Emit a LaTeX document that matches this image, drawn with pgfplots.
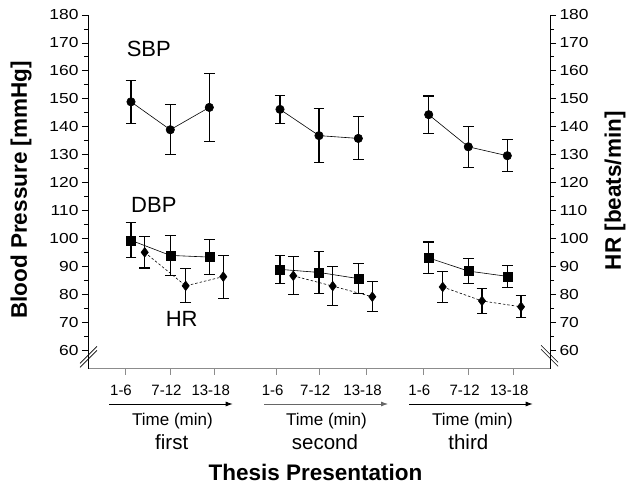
\documentclass[border=0pt]{standalone}
\usepackage{fontspec}
\setmainfont{Liberation Sans}
\newfontfamily\wide[FakeStretch=1.2]{Liberation Sans}
\usepackage{pgfplots}
\pgfplotsset{compat=1.18}
\usepackage{pgfplotstable}
\usetikzlibrary{arrows.meta}

% x = horizontal position of the marker, y = mean, e = error (SD)
\pgfplotstableread{
x y e
131 148.9 7.7
170.3 138.9 9.0
209.3 146.9 12.2
250 nan 0
280 146.2 5.1
319 136.8 9.7
358.3 135.8 7.7
400 nan 0
428.7 144.3 6.7
468.3 132.8 7.3
507.3 129.6 5.7
}\sbp
\pgfplotstableread{
x y e
131 99.3 6.3
170.3 93.9 7.1
209.3 93.3 6.3
250 nan 0
280 88.9 5.0
319 87.8 7.5
358.3 85.6 5.3
400 nan 0
428.7 93.0 5.7
468.3 88.3 4.4
507.3 86.4 3.9
}\dbp
\pgfplotstableread{
x y e
144.7 95.0 5.6
185.7 83.0 6.1
223.3 86.3 7.7
250 nan 0
293.3 86.6 6.75
332.7 82.9 7.0
372.3 79.1 5.3
400 nan 0
442.7 82.6 5.7
482 77.6 4.6
521 75.5 3.9
}\hr

\newcommand{\tfont}{\fontsize{15bp}{18bp}\selectfont}
\newcommand{\yfont}{\wide\fontsize{14.5bp}{18bp}\selectfont}
\newcommand{\bfnt}{\fontsize{22.5bp}{26bp}\selectfont\bfseries}

\pgfplotsset{
  base/.style={
    width=462bp, height=353.5bp, scale only axis,
    xmin=88, xmax=550, ymin=53.4, ymax=180,
    clip=false,
    /pgf/number format/assume math mode=true,
    ytick={60,70,...,180},
    minor ytick={65,75,...,175},
    tick align=outside,
    major tick length=6bp,
    minor tick length=4bp,
    every tick/.style={black, line width=0.8pt},
    yticklabel style={font=\yfont},
    y axis line style={black, line width=0.9pt},
  },
  ebar/.style={
    error bars/.cd, y dir=both, y explicit,
    error bar style={line width=1.1pt, solid},
    error mark options={rotate=90, mark size=5.3bp, line width=1.1pt, solid},
  },
}

\begin{document}
\begin{tikzpicture}
\begin{axis}[base,
  axis x line*=bottom, axis y line*=left,
  x axis line style={draw=black!45, line width=1.3pt},
  xtick={125,170.5,214.7,276.7,319.2,366.6,423.3,468.6,513.3},
  xticklabels={1-6,7-12,13-18,1-6,7-12,13-18,1-6,7-12,13-18},
  xtick style={draw=black!45, line width=0.9pt},
  xticklabel style={font=\tfont, anchor=base, yshift=-21bp, xshift=-4bp},
  ylabel={Blood Pressure [mmHg]},
  every axis y label/.style={at={(axis description cs:-0.145,0.505)}, rotate=90, anchor=center, font=\bfnt},
  xlabel={Thesis Presentation},
  every axis x label/.style={at={(axis description cs:0.4924,-0.3182)}, anchor=base, font=\bfnt},
]
\coordinate (bl) at (rel axis cs:0,0);

\addplot[black, line width=0.6pt, mark=*, mark size=4.2bp, unbounded coords=jump, ebar]
  table[x=x, y=y, y error=e] {\sbp};
\addplot[black, line width=0.6pt, mark=square*, mark size=4.5bp, unbounded coords=jump, ebar]
  table[x=x, y=y, y error=e] {\dbp};
\addplot[black, line width=0.6pt, dash pattern=on 2.5pt off 2pt, mark=diamond*, mark size=4.8bp, mark options={solid}, unbounded coords=jump, ebar]
  table[x=x, y=y, y error=e] {\hr};

\node[anchor=base west, font=\fontsize{22bp}{24bp}\selectfont] at (axis cs:123.3,165.3) {SBP};
\node[anchor=base west, font=\fontsize{22bp}{24bp}\selectfont] at (axis cs:127.7,109.3) {DBP};
\node[anchor=base west, font=\fontsize{22bp}{24bp}\selectfont] at (axis cs:162.3,68.35) {HR};

% time arrows and group names below the axis
\draw[line width=0.8pt, -{Latex[length=7bp,width=5bp]}] ([yshift=-35.5bp]axis cs:109.3,53.4) -- ([yshift=-35.5bp]axis cs:232.7,53.4);
\draw[line width=0.8pt, black!60, -{Latex[length=7bp,width=5bp]}] ([yshift=-35.5bp]axis cs:264.4,53.4) -- ([yshift=-35.5bp]axis cs:388,53.4);
\draw[line width=0.8pt, -{Latex[length=7bp,width=5bp]}] ([yshift=-35.5bp]axis cs:409.3,53.4) -- ([yshift=-35.5bp]axis cs:532.7,53.4);

\node[anchor=base, font=\fontsize{17bp}{19bp}\selectfont] at ([yshift=-56.8bp]axis cs:172.5,53.4) {Time (min)};
\node[anchor=base, font=\fontsize{17bp}{19bp}\selectfont] at ([yshift=-56.8bp]axis cs:326.5,53.4) {Time (min)};
\node[anchor=base, font=\fontsize{17bp}{19bp}\selectfont] at ([yshift=-56.8bp]axis cs:472.5,53.4) {Time (min)};
\node[anchor=base, font=\fontsize{20.5bp}{22bp}\selectfont] at ([yshift=-80.5bp]axis cs:171.7,53.4) {first};
\node[anchor=base, font=\fontsize{20.5bp}{22bp}\selectfont] at ([yshift=-80.5bp]axis cs:325,53.4) {second};
\node[anchor=base, font=\fontsize{20.5bp}{22bp}\selectfont] at ([yshift=-80.5bp]axis cs:468.3,53.4) {third};

% axis break marks
\draw[line width=0.7pt] ([xshift=-8bp,yshift=-9bp]axis cs:88,58.5) -- ([xshift=9bp,yshift=8bp]axis cs:88,58.5);
\draw[line width=0.7pt] ([xshift=-8bp,yshift=-13bp]axis cs:88,58.5) -- ([xshift=9bp,yshift=4bp]axis cs:88,58.5);
\draw[line width=0.7pt] ([xshift=-9bp,yshift=9bp]axis cs:550,58.5) -- ([xshift=8bp,yshift=-8bp]axis cs:550,58.5);
\draw[line width=0.7pt] ([xshift=-9bp,yshift=5bp]axis cs:550,58.5) -- ([xshift=8bp,yshift=-12bp]axis cs:550,58.5);
\end{axis}

\begin{axis}[base,
  axis x line=none, axis y line*=right,
  ylabel={HR [beats/min]},
  every axis y label/.style={at={(axis description cs:1.1407,0.503)}, rotate=90, anchor=center, font=\bfnt},
]
\end{axis}

\pgfresetboundingbox
\path[use as bounding box] ([xshift=-88bp,yshift=-117.5bp]bl) rectangle ([xshift=539bp,yshift=368.5bp]bl);
\end{tikzpicture}
\end{document}
